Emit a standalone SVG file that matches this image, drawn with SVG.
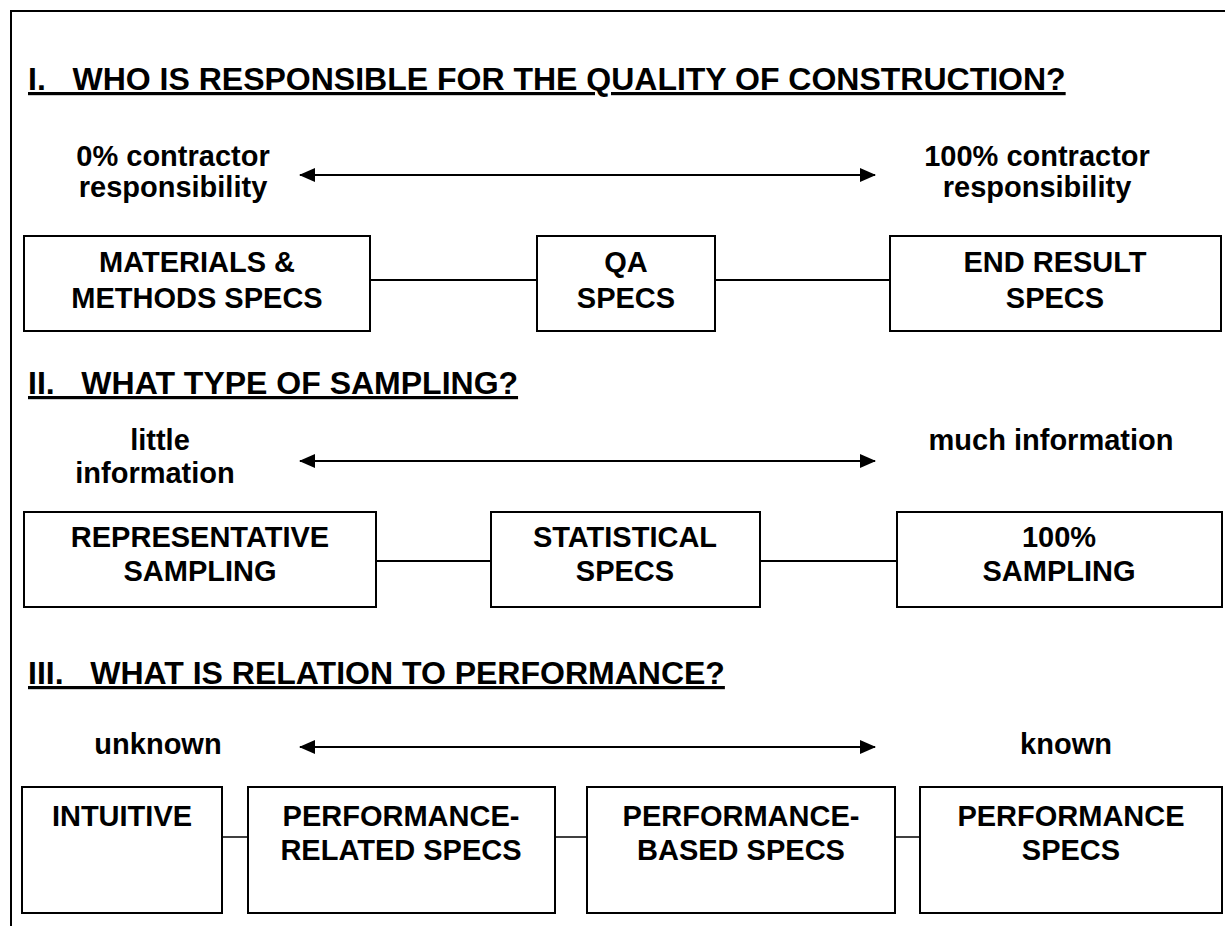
<svg xmlns="http://www.w3.org/2000/svg" width="1225" height="926" viewBox="0 0 1225 926">
<defs>
<marker id="ah" viewBox="0 0 16 14" refX="15" refY="7" markerWidth="16" markerHeight="14" markerUnits="userSpaceOnUse" orient="auto-start-reverse">
<path d="M0,0 L16,7 L0,14 Z" fill="#000"/>
</marker>
<style>
text{font-family:"Liberation Sans",Arial,sans-serif;font-weight:bold;fill:#000}
.t{font-size:32px;text-decoration:underline}
.l{font-size:29px;text-anchor:middle}
.b{font-size:29px;text-anchor:middle}
.box{fill:#fff;stroke:#000;stroke-width:2}
.c{stroke:#000;stroke-width:2;fill:none}
.c3{stroke:#000;stroke-width:1.5;fill:none}
.ar{stroke:#000;stroke-width:2;fill:none}
</style>
</defs>
<rect width="1225" height="926" fill="#fff"/>
<path d="M11,926 L11,11 L1225,11" fill="none" stroke="#000" stroke-width="2"/>

<g id="section1">
<text class="t" x="28" y="90" xml:space="preserve">I.   WHO IS RESPONSIBLE FOR THE QUALITY OF CONSTRUCTION?</text>
<text class="l" x="173" y="166">0% contractor</text>
<text class="l" x="173" y="197">responsibility</text>
<text class="l" x="1037" y="166">100% contractor</text>
<text class="l" x="1037" y="197">responsibility</text>
</g>
<g id="section2">
<text class="t" x="28" y="394" xml:space="preserve">II.   WHAT TYPE OF SAMPLING?</text>
<text class="l" x="160" y="450">little</text>
<text class="l" x="155" y="483">information</text>
<text class="l" x="1051" y="450">much information</text>
</g>
<g id="section3">
<text class="t" x="28" y="684" xml:space="preserve">III.   WHAT IS RELATION TO PERFORMANCE?</text>
<text class="l" x="158" y="754">unknown</text>
<text class="l" x="1066" y="754">known</text>
</g>

<g id="connectors">
<line class="ar" x1="300" y1="175" x2="875" y2="175" marker-start="url(#ah)" marker-end="url(#ah)"/>
<line class="ar" x1="300" y1="461" x2="875" y2="461" marker-start="url(#ah)" marker-end="url(#ah)"/>
<line class="ar" x1="300" y1="747" x2="875" y2="747" marker-start="url(#ah)" marker-end="url(#ah)"/>
<line class="c" x1="370" y1="280" x2="537" y2="280"/>
<line class="c" x1="715" y1="280" x2="890" y2="280"/>
<line class="c" x1="376" y1="561" x2="491" y2="561"/>
<line class="c" x1="760" y1="561" x2="897" y2="561"/>
<line class="c3" x1="222" y1="837" x2="248" y2="837"/>
<line class="c3" x1="555" y1="837" x2="587" y2="837"/>
<line class="c3" x1="895" y1="837" x2="920" y2="837"/>
</g>

<g id="n-materials">
<rect class="box" x="24" y="236" width="346" height="95"/>
<text class="b" x="197" y="272">MATERIALS &amp;</text>
<text class="b" x="197" y="308">METHODS SPECS</text>
</g>
<g id="n-qa">
<rect class="box" x="537" y="236" width="178" height="95"/>
<text class="b" x="626" y="272">QA</text>
<text class="b" x="626" y="308">SPECS</text>
</g>
<g id="n-endresult">
<rect class="box" x="890" y="236" width="331" height="95"/>
<text class="b" x="1055" y="272">END RESULT</text>
<text class="b" x="1055" y="308">SPECS</text>
</g>

<g id="n-representative">
<rect class="box" x="24" y="512" width="352" height="95"/>
<text class="b" x="200" y="547">REPRESENTATIVE</text>
<text class="b" x="200" y="581">SAMPLING</text>
</g>
<g id="n-statistical">
<rect class="box" x="491" y="512" width="269" height="95"/>
<text class="b" x="625" y="547">STATISTICAL</text>
<text class="b" x="625" y="581">SPECS</text>
</g>
<g id="n-100sampling">
<rect class="box" x="897" y="512" width="325" height="95"/>
<text class="b" x="1059" y="547">100%</text>
<text class="b" x="1059" y="581">SAMPLING</text>
</g>

<g id="n-intuitive">
<rect class="box" x="22" y="787" width="200" height="126"/>
<text class="b" x="122" y="826">INTUITIVE</text>
</g>
<g id="n-perfrelated">
<rect class="box" x="248" y="787" width="307" height="126"/>
<text class="b" x="401" y="826">PERFORMANCE-</text>
<text class="b" x="401" y="860">RELATED SPECS</text>
</g>
<g id="n-perfbased">
<rect class="box" x="587" y="787" width="308" height="126"/>
<text class="b" x="741" y="826">PERFORMANCE-</text>
<text class="b" x="741" y="860">BASED SPECS</text>
</g>
<g id="n-perf">
<rect class="box" x="920" y="787" width="302" height="126"/>
<text class="b" x="1071" y="826">PERFORMANCE</text>
<text class="b" x="1071" y="860">SPECS</text>
</g>
</svg>
